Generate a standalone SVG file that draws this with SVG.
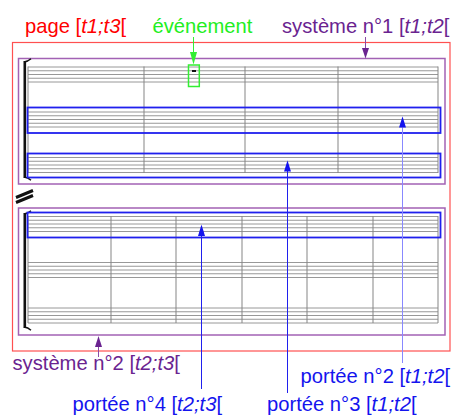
<svg xmlns="http://www.w3.org/2000/svg" xmlns:xlink="http://www.w3.org/1999/xlink" width="454" height="415" viewBox="0 0 454 415">
<style>
  .lbl { font-family: "Liberation Sans", Arial, sans-serif; font-size: 20.2px; }
  .it { font-style: italic; }
  .red { fill: #ff0000; }
  .green { fill: #22ee22; }
  .purple { fill: #6a2390; }
  .blue { fill: #1414ee; }
  .staff { stroke: #8c8c8c; stroke-width: 0.9; fill: none; }
  .bar { stroke: #858585; stroke-width: 1; fill: none; }
  .brk { fill: #111; stroke: none; }
  .hook { stroke: #111; stroke-width: 1.4; fill: none; }
  .stbox { fill: none; stroke: #2020ee; stroke-width: 1.8; }
  .sysbox { fill: none; stroke: #a262b4; stroke-width: 1.5; }
</style>
<defs>
  <path id="staff" class="staff" d="M28,0 H438 M28,3.75 H438 M28,7.5 H438 M28,11.25 H438 M28,15 H438"/>
</defs>
<rect width="454" height="415" fill="#ffffff"/>

<g id="page">
  <rect x="12.5" y="42.5" width="437.5" height="308.5" fill="none" stroke="#ff5050" stroke-width="1.2"/>
</g>

<g id="system1">
  <rect class="sysbox" x="18.5" y="58.5" width="426.5" height="125.5"/>
  <use xlink:href="#staff" href="#staff" y="67"/>
  <use xlink:href="#staff" href="#staff" y="112"/>
  <use xlink:href="#staff" href="#staff" y="157.5"/>
  <path class="bar" d="M28,66.5 V173 M144,66.5 V173 M245,66.5 V173 M338,66.5 V173 M438,66.5 V173"/>
  <rect class="brk" x="23.5" y="61" width="2.6" height="117"/>
  <path class="hook" d="M24,62 Q28,61.5 31,58.8 M24,177 Q28,177.5 31,180.2"/>
</g>

<g id="separator">
  <path d="M16,197.5 L33,190.5 M16,202.5 L33,195.5" stroke="#111" stroke-width="3" fill="none"/>
</g>

<g id="system2">
  <rect class="sysbox" x="18.5" y="208" width="426.5" height="127"/>
  <use xlink:href="#staff" href="#staff" y="216.5"/>
  <use xlink:href="#staff" href="#staff" y="262.5"/>
  <use xlink:href="#staff" href="#staff" y="308"/>
  <path class="bar" d="M28,216 V323 M111,216 V323 M176,216 V323 M242,216 V323 M307,216 V323 M373,216 V323 M438,216 V323"/>
  <rect class="brk" x="23.5" y="213" width="2.6" height="115"/>
  <path class="hook" d="M24,214 Q28,213.5 31,210.8 M24,327 Q28,327.5 31,330.2"/>
</g>

<g id="staff2">
  <rect class="stbox" x="27.5" y="107.5" width="413" height="25.5"/>
</g>
<g id="staff3">
  <rect class="stbox" x="27.5" y="153.5" width="413" height="24"/>
</g>
<g id="staff4">
  <rect class="stbox" x="27.5" y="212.5" width="413" height="25"/>
</g>

<g id="event">
  <rect x="188.5" y="65" width="10.8" height="21.5" fill="none" stroke="#33ee33" stroke-width="1.5"/>
  <rect x="192" y="70" width="4" height="2" fill="#111"/>
</g>

<g id="connectors">
  <line x1="193.5" y1="37" x2="193.5" y2="54" stroke="#33ee33" stroke-width="1"/>
  <polygon points="190,52 197,52 193.5,64.5" fill="#33ee33"/>
  <line x1="365.5" y1="37" x2="365.5" y2="50" stroke="#8a4aa6" stroke-width="1"/>
  <polygon points="362,48 369,48 365.5,58.5" fill="#6a2390"/>
  <line x1="98.5" y1="357" x2="98.5" y2="345" stroke="#8a4aa6" stroke-width="1"/>
  <polygon points="95,347 102,347 98.5,336" fill="#6a2390"/>
  <line x1="201.5" y1="389" x2="201.5" y2="234" stroke="#2020ee" stroke-width="1"/>
  <polygon points="198,236 205,236 201.5,224.5" fill="#1414ee"/>
  <line x1="287.5" y1="393" x2="287.5" y2="170" stroke="#2020ee" stroke-width="1"/>
  <polygon points="284,171.5 291,171.5 287.5,160.5" fill="#1414ee"/>
  <line x1="402.5" y1="363" x2="402.5" y2="126" stroke="#8888ff" stroke-width="1"/>
  <polygon points="399,127.5 406,127.5 402.5,116.5" fill="#1414ee"/>
</g>

<g id="labels">
  <text class="lbl red" x="25" y="33">page [<tspan class="it">t1;t3</tspan>[</text>
  <text class="lbl green" x="152.5" y="33">événement</text>
  <text class="lbl purple" x="282" y="33">système n°1 [<tspan class="it">t1;t2</tspan>[</text>
  <text class="lbl purple" x="12.5" y="370">système n°2 [<tspan class="it">t2;t3</tspan>[</text>
  <text class="lbl blue" x="300.5" y="383">portée n°2 [<tspan class="it">t1;t2</tspan>[</text>
  <text class="lbl blue" x="72.5" y="411">portée n°4 [<tspan class="it">t2;t3</tspan>[</text>
  <text class="lbl blue" x="267" y="411">portée n°3 [<tspan class="it">t1;t2</tspan>[</text>
</g>
</svg>
